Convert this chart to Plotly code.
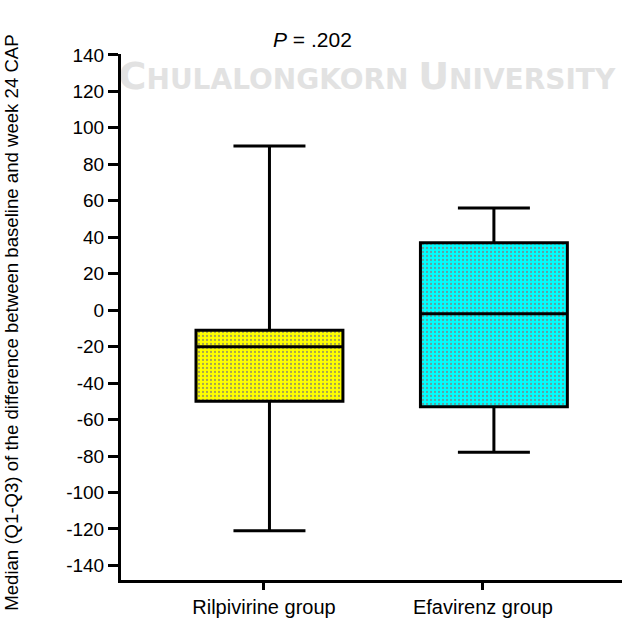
import plotly.graph_objects as go

# Summary statistics of the change in CAP (baseline to week 24)
groups = ["Rilpivirine group", "Efavirenz group"]
q1 = [-50, -53]
median = [-20, -2]
q3 = [-11, 37]
lower = [-121, -78]
upper = [90, 56]

y_ticks = list(range(-140, 141, 20))
y_tick_text = [str(v) for v in y_ticks]
p_label = "<i>P</i> = .202"

fill_colors = ["#ffff00", "#00ffff"]
dot_colors = ["#4a4aa0", "#c04040"]

tick_pos = [0, 1]
box_pos = [0.025, 1.05]
box_width = 0.671
font = "Liberation Sans, Arial, sans-serif"

fig = go.Figure()

# Watermark (drawn as a trace so the axis lines stay on top of it)
fig.add_trace(go.Scatter(
    x=[0.47], y=[125],
    mode="text",
    text=["<b><span style='font-size:38px'>C</span>HULALONGKORN "
          "<span style='font-size:38px'>U</span>NIVERSITY</b>"],
    textfont=dict(family="DejaVu Sans, Noto Sans, sans-serif", size=28, color="#e2e2e2"),
    textposition="middle center",
    cliponaxis=False, hoverinfo="skip", showlegend=False,
))

# Dotted box fills
for i in range(len(groups)):
    fig.add_trace(go.Bar(
        x=[box_pos[i]], base=[q1[i]], y=[q3[i] - q1[i]],
        width=box_width,
        marker=dict(color=fill_colors[i], line=dict(width=0),
                    pattern=dict(shape=".", size=4, solidity=0.25,
                                 fgcolor=dot_colors[i], bgcolor=fill_colors[i])),
        hoverinfo="skip", showlegend=False,
    ))

# Box outlines, medians and whiskers
for i in range(len(groups)):
    fig.add_trace(go.Box(
        x=[box_pos[i]], q1=[q1[i]], median=[median[i]], q3=[q3[i]],
        lowerfence=[lower[i]], upperfence=[upper[i]],
        width=box_width, whiskerwidth=0.49,
        fillcolor="rgba(0,0,0,0)",
        line=dict(color="black", width=3),
        name=groups[i], showlegend=False,
    ))

fig.update_layout(
    width=638, height=619,
    margin=dict(l=121, r=16, t=54, b=38.5, autoexpand=False),
    paper_bgcolor="white", plot_bgcolor="white",
    font=dict(family=font, size=18, color="black"),
    barmode="overlay", boxmode="overlay",
    showlegend=False,
    xaxis=dict(
        range=[-0.653, 1.635], automargin=False,
        tickmode="array", tickvals=tick_pos, ticktext=groups,
        ticks="outside", ticklen=7, tickwidth=3, tickcolor="black",
        showline=True, linewidth=3, linecolor="black",
        showgrid=False, zeroline=False,
        tickfont=dict(size=20),
    ),
    yaxis=dict(
        range=[-148, 140.5], automargin=False,
        tickmode="array", tickvals=y_ticks, ticktext=y_tick_text,
        ticks="outside", ticklen=10, tickwidth=3, tickcolor="black",
        showline=True, linewidth=3, linecolor="black",
        showgrid=False, zeroline=False,
        tickfont=dict(size=19),
    ),
    annotations=[
        dict(text="Median (Q1-Q3) of the difference between baseline and week 24 CAP",
             xref="paper", yref="paper", x=-0.2176, y=0.489,
             textangle=-90, showarrow=False, font=dict(size=18.6),
             xanchor="center", yanchor="middle"),
        dict(text=p_label, xref="paper", yref="paper",
             x=(312 - 121) / 501, y=(580.5 - 39.5) / 526.5,
             showarrow=False, font=dict(size=21),
             xanchor="center", yanchor="middle"),
    ],
)

fig.write_html("out.html")
